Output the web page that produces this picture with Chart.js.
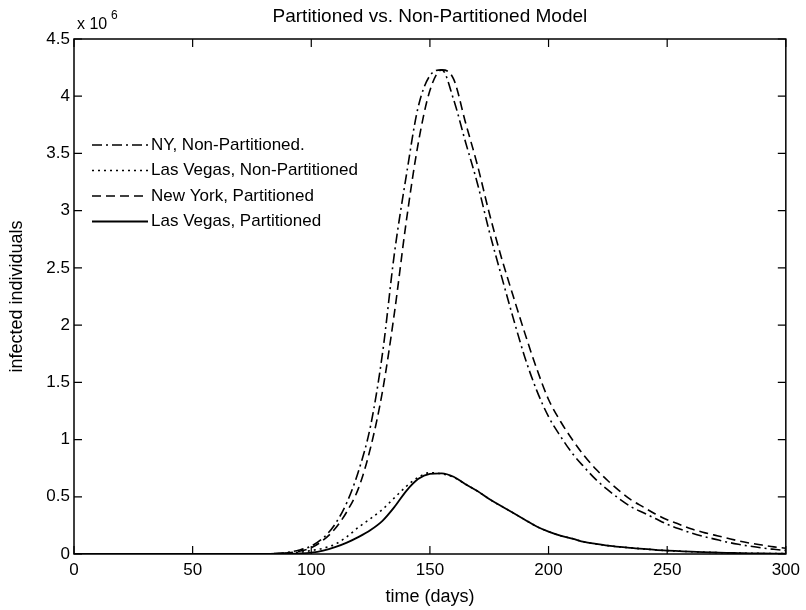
<!DOCTYPE html>
<html>
<head>
<meta charset="utf-8">
<script src="https://cdn.jsdelivr.net/npm/chart.js@4"></script>
<style>
  body { margin: 0; background: #fff; }
  canvas { display: block; }
</style>
</head>
<body>
<canvas id="chart" width="806" height="610"></canvas>
<script>
// values in millions of infected individuals (axis shows x 10^6)
const days = [0, 80, 85, 90, 95, 100, 105, 110, 115, 120, 125, 130, 135, 140, 145, 150, 155, 160, 165, 170,
  175, 180, 185, 190, 195, 200, 205, 210, 215, 220, 225, 230, 235, 240, 245, 250, 255, 260, 265, 270,
  275, 280, 285, 290, 295, 300];

const nyNonPartitioned = [0, 0, 0.005, 0.015, 0.035, 0.07, 0.14, 0.26, 0.45, 0.73, 1.12, 1.75, 2.62, 3.3, 3.9, 4.18, 4.23, 3.97, 3.6, 3.24,
  2.82, 2.44, 2.07, 1.72, 1.43, 1.20, 1.03, 0.88, 0.76, 0.65, 0.56, 0.48, 0.41, 0.36, 0.31, 0.26, 0.22, 0.185, 0.155, 0.13,
  0.105, 0.085, 0.068, 0.053, 0.041, 0.03];

const lvNonPartitioned = [0, 0, 0.002, 0.006, 0.015, 0.03, 0.05, 0.085, 0.15, 0.235, 0.31, 0.39, 0.49, 0.59, 0.67, 0.71, 0.70, 0.67, 0.61, 0.55,
  0.48, 0.42, 0.36, 0.30, 0.24, 0.195, 0.16, 0.135, 0.105, 0.088, 0.073, 0.062, 0.053, 0.044, 0.036, 0.03, 0.025, 0.02, 0.016, 0.013,
  0.01, 0.008, 0.006, 0.005, 0.004, 0.003];

const nyPartitioned = [0, 0, 0.003, 0.01, 0.025, 0.055, 0.12, 0.22, 0.37, 0.58, 0.93, 1.42, 2.1, 2.9, 3.58, 4.05, 4.23, 4.15, 3.77, 3.4,
  2.98, 2.6, 2.26, 1.93, 1.62, 1.35, 1.16, 1.0, 0.86, 0.74, 0.64, 0.55, 0.47, 0.41, 0.35, 0.30, 0.26, 0.22, 0.19, 0.165,
  0.14, 0.115, 0.095, 0.078, 0.062, 0.05];

const lvPartitioned = [0, 0, 0.001, 0.002, 0.005, 0.012, 0.03, 0.06, 0.10, 0.15, 0.21, 0.29, 0.41, 0.55, 0.655, 0.70, 0.705, 0.675, 0.61, 0.55,
  0.48, 0.42, 0.36, 0.30, 0.24, 0.195, 0.16, 0.135, 0.105, 0.088, 0.073, 0.062, 0.053, 0.044, 0.036, 0.03, 0.025, 0.02, 0.016, 0.013,
  0.01, 0.008, 0.006, 0.005, 0.004, 0.003];

const seriesLabels = ["NY, Non-Partitioned.", "Las Vegas, Non-Partitioned", "New York, Partitioned", "Las Vegas, Partitioned"];
const xTicks = [0, 50, 100, 150, 200, 250, 300];
const yTicks = [0, 0.5, 1, 1.5, 2, 2.5, 3, 3.5, 4, 4.5];

const FONT = "'Liberation Sans', Arial, sans-serif";

function toPoints(values){
    return values.map((v, i) => ({x: days[i], y: v}));
}

const dashes = [[10, 4, 2, 4], [2, 4], [9, 5], []];
const allSeries = [nyNonPartitioned, lvNonPartitioned, nyPartitioned, lvPartitioned];

const datasets = allSeries.map((vals, i) => ({
    label: seriesLabels[i],
    data: toPoints(vals),
    borderColor: "#000",
    borderWidth: i == 3 ? 1.8 : 1.6,
    borderDash: dashes[i],
    pointRadius: 0,
    fill: false,
    cubicInterpolationMode: "monotone"
}));

// matlab look: box, inward ticks, legend inside, title and exponent
const matlabPlugin = {
    id: "matlab",
    afterDatasetsDraw(chart){
        const ctx = chart.ctx;
        const a = chart.chartArea;
        const xs = chart.scales.x;
        const ys = chart.scales.y;
        ctx.save();
        ctx.strokeStyle = "#000";
        ctx.lineWidth = 1.5;
        ctx.setLineDash([]);
        ctx.strokeRect(a.left, a.top, a.right - a.left, a.bottom - a.top);

        ctx.lineWidth = 1.2;
        ctx.beginPath();
        xTicks.forEach(t => {
            const px = xs.getPixelForValue(t);
            ctx.moveTo(px, a.bottom); ctx.lineTo(px, a.bottom - 8);
            ctx.moveTo(px, a.top); ctx.lineTo(px, a.top + 8);
        });
        yTicks.forEach(t => {
            const py = ys.getPixelForValue(t);
            ctx.moveTo(a.left, py); ctx.lineTo(a.left + 8, py);
            ctx.moveTo(a.right, py); ctx.lineTo(a.right - 8, py);
        });
        ctx.stroke();

        // legend
        ctx.fillStyle = "#000";
        ctx.font = "17px " + FONT;
        ctx.textBaseline = "middle";
        ctx.textAlign = "left";
        chart.data.datasets.forEach((ds, i) => {
            const y = a.top + 106 + i * 25.5;
            ctx.lineWidth = ds.borderWidth;
            ctx.setLineDash(ds.borderDash);
            ctx.beginPath();
            ctx.moveTo(a.left + 18, y);
            ctx.lineTo(a.left + 74, y);
            ctx.stroke();
            ctx.fillText(ds.label, a.left + 77, y);
        });
        ctx.setLineDash([]);

        // title
        ctx.font = "19px " + FONT;
        ctx.textAlign = "center";
        ctx.fillText("Partitioned vs. Non-Partitioned Model", (a.left + a.right) / 2, a.top - 22);

        // exponent
        ctx.textAlign = "left";
        ctx.font = "16px " + FONT;
        ctx.fillText("x 10", a.left + 3, a.top - 14);
        ctx.font = "12px " + FONT;
        ctx.fillText("6", a.left + 37, a.top - 23);
        ctx.restore();
    }
};

new Chart(document.getElementById("chart"), {
    type: "line",
    data: { datasets: datasets },
    plugins: [matlabPlugin],
    options: {
        responsive: false,
        animation: false,
        devicePixelRatio: 1,
        layout: { padding: { top: 39, right: 16, left: 0, bottom: 0 } },
        plugins: {
            legend: { display: false },
            title: { display: false },
            tooltip: { enabled: false }
        },
        scales: {
            x: {
                type: "linear",
                min: 0,
                max: 300,
                afterFit: s => { s.height = 56; },
                afterBuildTicks: s => { s.ticks = xTicks.map(v => ({value: v})); },
                grid: { display: false, drawTicks: false },
                border: { display: false },
                ticks: { color: "#000", padding: 6, maxRotation: 0, font: { family: FONT, size: 17 },
                    callback: v => String(v) },
                title: { display: true, text: "time (days)", color: "#000", padding: { top: 0, bottom: 2 }, font: { family: FONT, size: 18 } }
            },
            y: {
                min: 0,
                max: 4.5,
                afterFit: s => { s.width = 74; },
                afterBuildTicks: s => { s.ticks = yTicks.map(v => ({value: v})); },
                grid: { display: false, drawTicks: false },
                border: { display: false },
                ticks: { color: "#000", padding: 4, font: { family: FONT, size: 17 },
                    callback: v => String(v) },
                title: { display: true, text: "infected individuals", color: "#000", padding: { top: 6, bottom: 0 }, font: { family: FONT, size: 18 } }
            }
        }
    }
});
</script>
</body>
</html>
